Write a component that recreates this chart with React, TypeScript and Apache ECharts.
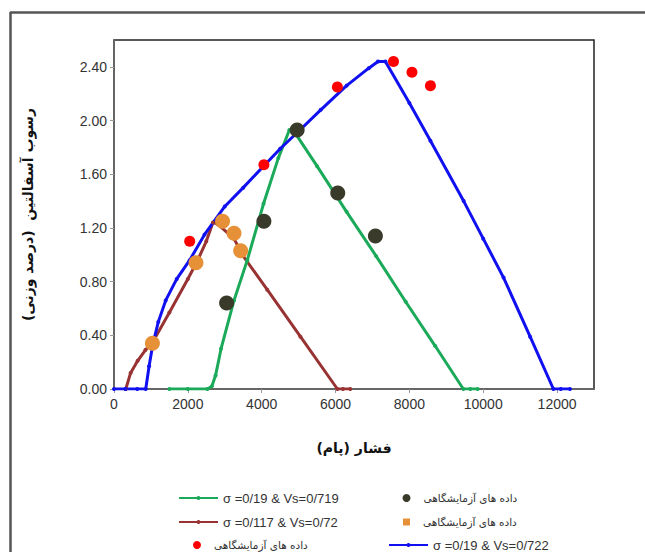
import React, { useEffect, useRef } from "react";
import * as echarts from "echarts";

// Pressure (x) and asphaltene deposition (y) for each model curve
const blueX = [0, 310, 630, 860, 950, 1050, 1200, 1400, 1700, 2050, 2450, 3000, 3500, 4050, 4500, 5000, 5600, 6300, 6900, 7150, 7350, 8000, 8570, 9470, 10000, 10550, 11270, 11900, 12100, 12350];
const blueY = [0, 0, 0, 0, 0.17, 0.33, 0.5, 0.66, 0.82, 0.96, 1.15, 1.36, 1.5, 1.66, 1.79, 1.92, 2.08, 2.26, 2.39, 2.44, 2.44, 2.13, 1.85, 1.4, 1.12, 0.83, 0.39, 0, 0, 0];

const greenX = [1500, 2000, 2530, 2650, 2750, 2900, 3250, 3610, 4050, 4450, 4750, 4850, 5500, 6300, 7100, 7900, 8700, 9460, 9650, 9850];
const greenY = [0, 0, 0, 0.02, 0.1, 0.3, 0.66, 0.96, 1.38, 1.72, 1.93, 1.93, 1.66, 1.32, 0.99, 0.65, 0.32, 0, 0, 0];

const brownX = [320, 450, 640, 850, 1050, 1500, 2000, 2250, 2500, 2680, 2800, 3250, 3500, 4150, 5050, 6050, 6200, 6400];
const brownY = [0, 0.12, 0.21, 0.29, 0.35, 0.57, 0.82, 0.95, 1.1, 1.24, 1.23, 1.12, 0.99, 0.74, 0.39, 0, 0, 0];

// Laboratory measurements
const redX = [2050, 4060, 6050, 7570, 8070, 8570];
const redY = [1.1, 1.67, 2.25, 2.44, 2.36, 2.26];
const darkX = [3050, 4060, 4960, 6060, 7080];
const darkY = [0.64, 1.25, 1.93, 1.46, 1.14];
const orangeX = [1040, 2220, 2940, 3250, 3430];
const orangeY = [0.34, 0.94, 1.25, 1.16, 1.03];

const LAB = "داده های آزمایشگاهی";
const nameGreen = "σ =0/19 & Vs=0/719";
const nameBrown = "σ =0/117 & Vs=0/72";
const nameBlue = "σ =0/19 & Vs=0/722";

const zip = (xs: number[], ys: number[]) => xs.map((x, i) => [x, ys[i]]);

const FONT = "'Liberation Sans', Arial, 'DejaVu Sans', sans-serif";
const FA_FONT = "'DejaVu Sans', sans-serif";

export default function App() {
  const ref = useRef<HTMLDivElement>(null);

  useEffect(() => {
    if (!ref.current) return;
    const chart = echarts.init(ref.current, undefined, { renderer: "svg" });

    const lineSeries = (name: string, xs: number[], ys: number[], color: string) => ({
      type: "line",
      name,
      data: zip(xs, ys),
      symbol: "circle",
      symbolSize: 4,
      showSymbol: true,
      itemStyle: { color },
      lineStyle: { color, width: 3 },
      z: 2,
    });

    const dotSeries = (name: string, xs: number[], ys: number[], color: string, size: number) => ({
      type: "scatter",
      name,
      data: zip(xs, ys),
      symbol: "circle",
      symbolSize: size,
      itemStyle: { color, opacity: 1 },
      z: 3,
    });

    // one legend entry per slot, laid out in two columns of three rows
    const rowCenter = [493, 517, 540];
    const lineItem = (name: string, left: number, row: number) => ({
      orient: "horizontal",
      left,
      top: rowCenter[row] - 8,
      itemWidth: 39,
      itemHeight: 5,
      selectedMode: false,
      textStyle: { fontFamily: FONT, fontSize: 13, color: "#333", lineHeight: 16 },
      data: [{ name }],
    });
    const dotItem = (name: string, center: number, row: number, icon: string, size: number) => ({
      orient: "horizontal",
      left: center - size / 2,
      top: rowCenter[row] - 8,
      itemWidth: size,
      itemHeight: size,
      selectedMode: false,
      formatter: () => LAB,
      textStyle: {
        fontFamily: FA_FONT,
        fontSize: 10.5,
        color: "#333",
        lineHeight: 16,
        padding: [0, 0, 0, 8],
      },
      data: [{ name, icon }],
    });

    chart.setOption({
      animation: false,
      backgroundColor: "#fff",
      grid: {
        left: 114,
        top: 40,
        right: 51,
        bottom: 163,
        show: true,
        borderColor: "#222",
        borderWidth: 1.5,
      },
      xAxis: {
        type: "value",
        min: 0,
        max: 13000,
        interval: 2000,
        name: "(پام) فشار",
        nameLocation: "middle",
        nameGap: 52,
        nameTextStyle: { fontFamily: FA_FONT, fontSize: 14, fontWeight: "bold", color: "#111" },
        axisLine: { show: true, onZero: false, lineStyle: { color: "#666", width: 2 } },
        axisTick: { show: true, inside: false, length: 4, lineStyle: { color: "#999" } },
        axisLabel: {
          fontFamily: FONT,
          fontSize: 14,
          color: "#333",
          margin: 8,
          showMaxLabel: false,
          formatter: (v: number) => String(v),
        },
        splitLine: { show: false },
      },
      yAxis: {
        type: "value",
        min: 0,
        max: 2.6,
        interval: 0.4,
        name: "\u200Fرسوب آسفالتین  (درصد وزنی)\u200F",
        nameLocation: "middle",
        nameRotate: 90,
        nameGap: 79,
        nameTextStyle: { fontFamily: FA_FONT, fontSize: 14, fontWeight: "bold", color: "#111" },
        axisLine: { show: true, onZero: false, lineStyle: { color: "#666", width: 2 } },
        axisTick: { show: true, inside: false, length: 4, lineStyle: { color: "#999" } },
        axisLabel: {
          fontFamily: FONT,
          fontSize: 14,
          color: "#333",
          margin: 7,
          showMaxLabel: false,
          formatter: (v: number) => v.toFixed(2),
        },
        splitLine: { show: false },
      },
      legend: [
        lineItem(nameGreen, 173, 0),
        lineItem(nameBrown, 173, 1),
        dotItem("labRed", 192, 2, "circle", 8),
        dotItem("labDark", 401.5, 0, "circle", 8),
        dotItem("labOrange", 401.5, 1, "rect", 7),
        lineItem(nameBlue, 383, 2),
      ],
      graphic: [
        { type: "line", shape: { x1: 10, y1: 12.5, x2: 645, y2: 12.5 }, style: { stroke: "#555", lineWidth: 2.5 } },
        { type: "line", shape: { x1: 10.5, y1: 12, x2: 10.5, y2: 552 }, style: { stroke: "#555", lineWidth: 2.5 } },
      ],
      series: [
        lineSeries(nameBrown, brownX, brownY, "#993333"),
        lineSeries(nameGreen, greenX, greenY, "#1BA95A"),
        lineSeries(nameBlue, blueX, blueY, "#1010F0"),
        dotSeries("labRed", redX, redY, "#FF0000", 11),
        dotSeries("labDark", darkX, darkY, "#3A3A2A", 15),
        dotSeries("labOrange", orangeX, orangeY, "#E69138", 15),
      ],
    });

    return () => chart.dispose();
  }, []);

  return (
    <div
      ref={ref}
      style={{ position: "fixed", left: 0, top: 0, width: 645, height: 552, background: "#fff" }}
    />
  );
}
